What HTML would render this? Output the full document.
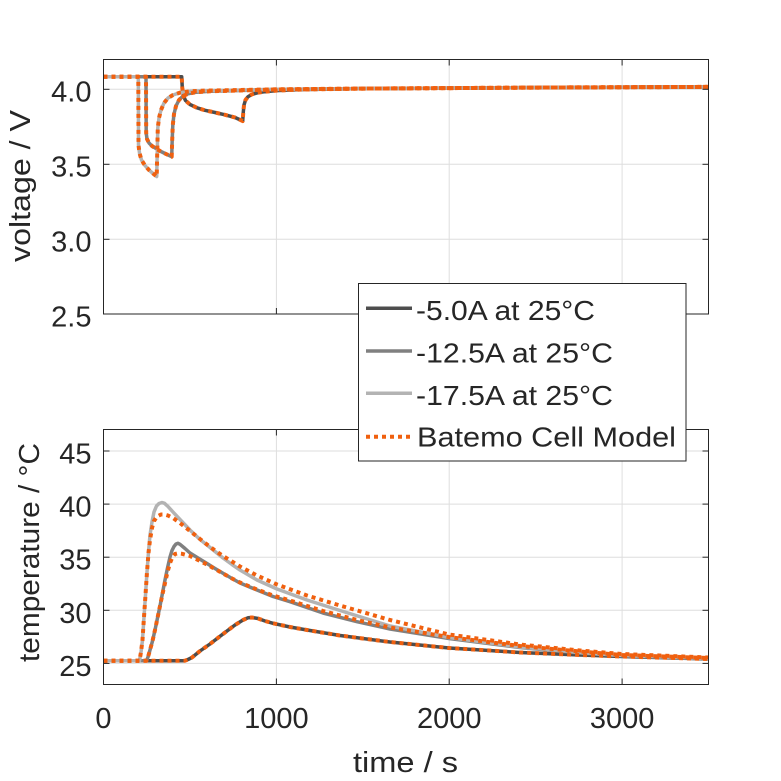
<!DOCTYPE html>
<html>
<head>
<meta charset="utf-8">
<style>
html,body{margin:0;padding:0;background:#fff;}
svg{display:block;}
text{font-family:"Liberation Sans",Arial,sans-serif;fill:#262626;}
</style>
</head>
<body>
<svg width="781" height="781" viewBox="0 0 781 781" xmlns="http://www.w3.org/2000/svg">
<defs>
<clipPath id="ct"><rect x="103.5" y="59.5" width="605" height="254.5"/></clipPath>
<clipPath id="cb"><rect x="103.5" y="429.5" width="605" height="255"/></clipPath>
</defs>
<rect width="781" height="781" fill="#fff"/>

<!-- ===== TOP AXES ===== -->
<g stroke="#dedede" stroke-width="1" fill="none">
<line x1="276.4" y1="59.5" x2="276.4" y2="314"/>
<line x1="449.2" y1="59.5" x2="449.2" y2="314"/>
<line x1="622.1" y1="59.5" x2="622.1" y2="314"/>
<line x1="103.5" y1="89.3" x2="708.5" y2="89.3"/>
<line x1="103.5" y1="164.3" x2="708.5" y2="164.3"/>
<line x1="103.5" y1="239.3" x2="708.5" y2="239.3"/>
</g>

<g clip-path="url(#ct)" fill="none" stroke-linejoin="round">
<polyline stroke="#4d4d4d" stroke-width="3.5" points="103.5,76.7 181.7,76.7 182.3,88 183.5,96 185.5,100.5 190,104.5 197,107.8 205,110.3 215,112.5 225,114.8 235,117.5 242.7,121 243.3,112 244,105 245.5,100 248,96.7 252,94.3 258,92.7 265,91.7 276.4,90.6 300,89.6 360,88.6 449,88.1 550,87.5 708.5,86.9"/>
<polyline stroke="#808080" stroke-width="3.5" points="103.5,76.7 146,76.7 146.2,133 147,139 149,143 152,146 156,148.5 160,151 165,153.5 171.7,156.7 172.2,140 172.8,125 174,114 176,106 179,100 183,96 188,93.8 196,92.2 210,91.3 240,90.5 276.4,89.5 360,88.6 449,88.1 550,87.5 708.5,86.9"/>
<polyline stroke="#b3b3b3" stroke-width="3.5" points="103.5,76.7 138.3,76.7 138.5,145 139.5,153 141.5,160 145,165.5 149,170 153,173.5 156.7,176.5 157.3,150 157.8,128 159,118 161,110 164,103 168,98 173,95 180,92.6 190,91.3 205,90.6 230,90.2 276.4,89.3 360,88.6 449,88.1 550,87.5 708.5,86.9"/>
<g stroke="#f0600f" stroke-width="4" stroke-dasharray="4 4">
<polyline points="103.5,76.7 181.7,76.7 182.3,88 183.5,96 185.5,100.5 190,104.5 197,107.8 205,110.3 215,112.5 225,114.8 235,117.5 242.7,121 243.3,112 244,105 245.5,100 248,96.7 252,94.3 258,92.7 265,91.7 276.4,90.6 300,89.6 360,88.6 449,88.1 550,87.5 708.5,86.9"/>
<polyline points="103.5,76.7 146,76.7 146.2,133 147,139 149,143 152,146 156,148.5 160,151 165,153.5 171.7,156.7 172.2,140 172.8,125 174,114 176,106 179,100 183,96 188,93.8 196,92.2 210,91.3 240,90.5 276.4,89.5 360,88.6 449,88.1 550,87.5 708.5,86.9"/>
<polyline points="103.5,76.7 138.3,76.7 138.5,145 139.5,153 141.5,160 145,165.5 149,170 153,173.5 156.7,176.5 157.3,150 157.8,128 159,118 161,110 164,103 168,98 173,95 180,92.6 190,91.3 205,90.6 230,90.2 276.4,89.3 360,88.6 449,88.1 550,87.5 708.5,86.9"/>
</g>
</g>

<g stroke="#262626" stroke-width="1" fill="none">
<rect x="103.5" y="59.5" width="605" height="254.5"/>
<line x1="103.5" y1="89.3" x2="109.5" y2="89.3"/><line x1="708.5" y1="89.3" x2="702.5" y2="89.3"/>
<line x1="103.5" y1="164.3" x2="109.5" y2="164.3"/><line x1="708.5" y1="164.3" x2="702.5" y2="164.3"/>
<line x1="103.5" y1="239.3" x2="109.5" y2="239.3"/><line x1="708.5" y1="239.3" x2="702.5" y2="239.3"/>
<line x1="276.4" y1="59.5" x2="276.4" y2="65.5"/><line x1="276.4" y1="314" x2="276.4" y2="308"/>
<line x1="449.2" y1="59.5" x2="449.2" y2="65.5"/><line x1="449.2" y1="314" x2="449.2" y2="308"/>
<line x1="622.1" y1="59.5" x2="622.1" y2="65.5"/><line x1="622.1" y1="314" x2="622.1" y2="308"/>
</g>

<g font-size="29" text-anchor="end">
<text x="91.5" y="101.5">4.0</text>
<text x="91.5" y="176.5">3.5</text>
<text x="91.5" y="251.5">3.0</text>
<text x="91.5" y="326.5">2.5</text>
</g>
<text font-size="29" text-anchor="middle" transform="translate(30,186) rotate(-90)" textLength="152" lengthAdjust="spacingAndGlyphs">voltage / V</text>

<!-- ===== BOTTOM AXES ===== -->
<g stroke="#dedede" stroke-width="1" fill="none">
<line x1="276.4" y1="429.5" x2="276.4" y2="684.5"/>
<line x1="449.2" y1="429.5" x2="449.2" y2="684.5"/>
<line x1="622.1" y1="429.5" x2="622.1" y2="684.5"/>
<line x1="103.5" y1="451" x2="708.5" y2="451"/>
<line x1="103.5" y1="504.1" x2="708.5" y2="504.1"/>
<line x1="103.5" y1="557.2" x2="708.5" y2="557.2"/>
<line x1="103.5" y1="610.3" x2="708.5" y2="610.3"/>
<line x1="103.5" y1="663.4" x2="708.5" y2="663.4"/>
</g>

<g clip-path="url(#cb)" fill="none" stroke-linejoin="round">
<polyline stroke="#4d4d4d" stroke-width="3.5" points="103.5,660.7 185,660.7 188,659.5 192,657.5 200,651 210,644 223,634 235,625 243,620 248,617.8 252,617.5 258,618.5 265,621 273,623.3 290,627 307,630 340,635.5 390,642 449,648 520,652.5 580,655 622,656.5 708.5,659"/>
<polyline stroke="#808080" stroke-width="3.5" points="103.5,660.7 146.5,660.7 148,657 150,650 152.5,641 155,630 157.5,618 160,606 162.5,593 165,580 167.5,568 170,557 172,550.5 174,546.5 176,544 178,543.3 180,544.3 185,548.5 190,553 198,558 207,563.5 215,568.5 223,573.3 232,578.5 240,583 257,590 273,596.5 290,601.7 323,613 357,621.7 390,629 449,638.5 520,647.5 580,653 622,655.8 708.5,658.7"/>
<polyline stroke="#b3b3b3" stroke-width="3.5" points="103.5,660.7 139.5,660.7 141,652 142.5,640 144,617 145.5,595 147,572 148.5,552 150,535 152,522 154,512 156.5,506 159,503.5 162,502.5 164.5,503.3 168,506.5 173,512 180,519.5 190,530 200,539.5 207,545 215,551.5 223,558 232,564.5 240,570 257,580 277,589 307,600 340,610.5 390,626 449,637.5 520,647 580,652.5 622,655.5 708.5,658.5"/>
<g stroke="#f0600f" stroke-width="4" stroke-dasharray="4 4">
<polyline points="103.5,660.7 185,660.7 188,659.5 192,657.5 200,651 210,644 223,634 235,625 243,620 248,617.8 252,617.5 258,618.5 265,621 273,623.3 290,627 307,630 340,635.5 390,642 449,648 520,652.5 580,655 622,656.5 708.5,659"/>
<polyline points="103.5,660.7 146.5,660.7 148,657 150,650 152.5,641 155,630 157.5,618 160,606 162.5,594 165,583 167.5,572 170,563 172.5,557 175,554 178,553.3 182,553.8 190,556 198,560 207,564.5 215,569 223,573.5 232,578.5 240,582.5 257,589.5 273,595.5 290,600.5 323,611 357,620 390,627.5 449,637 520,646 580,651.5 622,655 708.5,658"/>
<polyline points="103.5,660.7 139.5,660.7 141,652 142.5,640 144,617 145.5,595 147,572 148.5,553 150,540 152,528 154,521 157,516.5 161,514.5 164.5,514.5 168,515.5 173,518 180,523 190,531 200,539 207,544.5 215,550.5 223,556 232,561.5 240,566.5 257,575.5 277,584.5 307,595.5 340,605.5 390,620 449,634.5 520,644.5 580,650.5 622,654 708.5,657.5"/>
</g>
</g>

<g stroke="#262626" stroke-width="1" fill="none">
<rect x="103.5" y="429.5" width="605" height="255"/>
<line x1="103.5" y1="451" x2="109.5" y2="451"/><line x1="708.5" y1="451" x2="702.5" y2="451"/>
<line x1="103.5" y1="504.1" x2="109.5" y2="504.1"/><line x1="708.5" y1="504.1" x2="702.5" y2="504.1"/>
<line x1="103.5" y1="557.2" x2="109.5" y2="557.2"/><line x1="708.5" y1="557.2" x2="702.5" y2="557.2"/>
<line x1="103.5" y1="610.3" x2="109.5" y2="610.3"/><line x1="708.5" y1="610.3" x2="702.5" y2="610.3"/>
<line x1="103.5" y1="663.4" x2="109.5" y2="663.4"/><line x1="708.5" y1="663.4" x2="702.5" y2="663.4"/>
<line x1="276.4" y1="429.5" x2="276.4" y2="435.5"/><line x1="276.4" y1="684.5" x2="276.4" y2="678.5"/>
<line x1="449.2" y1="429.5" x2="449.2" y2="435.5"/><line x1="449.2" y1="684.5" x2="449.2" y2="678.5"/>
<line x1="622.1" y1="429.5" x2="622.1" y2="435.5"/><line x1="622.1" y1="684.5" x2="622.1" y2="678.5"/>
</g>

<g font-size="29" text-anchor="end">
<text x="91.5" y="463.5">45</text>
<text x="91.5" y="516.6">40</text>
<text x="91.5" y="569.7">35</text>
<text x="91.5" y="622.8">30</text>
<text x="91.5" y="675.9">25</text>
</g>
<g font-size="29" text-anchor="middle">
<text x="103.5" y="728">0</text>
<text x="276.4" y="728">1000</text>
<text x="449.2" y="728">2000</text>
<text x="622.1" y="728">3000</text>
</g>
<text font-size="29" x="405.5" y="772" text-anchor="middle" textLength="105" lengthAdjust="spacingAndGlyphs">time / s</text>
<text font-size="29" text-anchor="middle" transform="translate(39,552.5) rotate(-90)" textLength="219" lengthAdjust="spacingAndGlyphs">temperature / °C</text>

<!-- ===== LEGEND ===== -->
<rect x="358.5" y="283.5" width="327.5" height="177.5" fill="#fff" stroke="#262626" stroke-width="1"/>
<line x1="366" y1="308.3" x2="412" y2="308.3" stroke="#4d4d4d" stroke-width="3.5"/>
<line x1="366" y1="351" x2="412" y2="351" stroke="#808080" stroke-width="3.5"/>
<line x1="366" y1="393.3" x2="412" y2="393.3" stroke="#b3b3b3" stroke-width="3.5"/>
<line x1="366" y1="436.7" x2="411" y2="436.7" stroke="#f0600f" stroke-width="4" stroke-dasharray="4 4"/>
<g font-size="28">
<text x="416" y="320" textLength="179" lengthAdjust="spacingAndGlyphs">-5.0A at 25°C</text>
<text x="416" y="362.7" textLength="197" lengthAdjust="spacingAndGlyphs">-12.5A at 25°C</text>
<text x="416" y="405" textLength="197" lengthAdjust="spacingAndGlyphs">-17.5A at 25°C</text>
<text x="417" y="446.7" textLength="259" lengthAdjust="spacingAndGlyphs">Batemo Cell Model</text>
</g>
</svg>
</body>
</html>
